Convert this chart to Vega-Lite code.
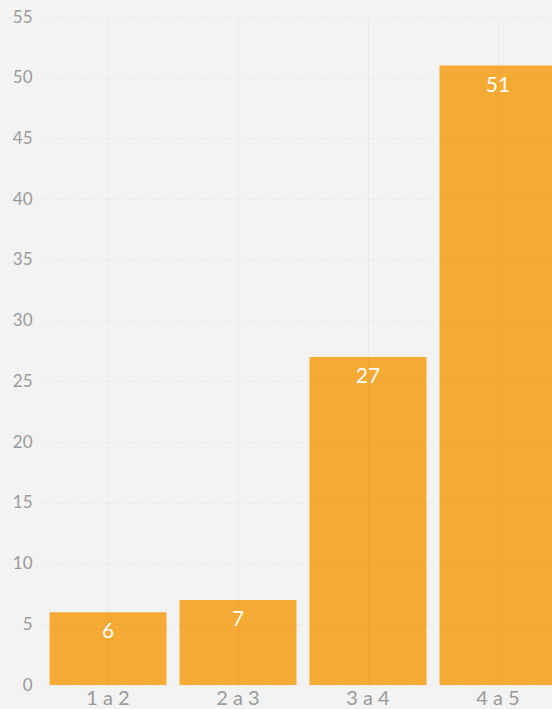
{
  "$schema": "https://vega.github.io/schema/vega-lite/v6.json",
  "autosize": {"type": "none"},
  "width": 509,
  "height": 668,
  "padding": {"left": 43, "top": 17, "right": 0, "bottom": 24},
  "background": "#f3f3f3",
  "config": {"view": {"stroke": null}, "font": "Lato"},
  "data": {"values": [
    {"range": "1 a 2", "count": 6},
    {"range": "2 a 3", "count": 7},
    {"range": "3 a 4", "count": 27},
    {"range": "4 a 5", "count": 51}
  ]},
  "encoding": {
    "x": {
      "field": "range", "type": "nominal", "sort": null,
      "scale": {"range": [0, 520], "paddingInner": 0.1, "paddingOuter": 0.05},
      "axis": {"title": null, "labelAngle": 0, "domain": false, "ticks": false, "grid": true, "bandPosition": 0.5, "gridColor": "#000000", "gridOpacity": 0.03, "labelColor": "#9a9a9a", "labelFontSize": 20, "labelPadding": 3, "zindex": 1}
    },
    "y": {
      "field": "count", "type": "quantitative",
      "scale": {"domain": [0, 55], "nice": false},
      "axis": {"title": null, "values": [0,5,10,15,20,25,30,35,40,45,50,55], "domain": false, "ticks": false, "grid": true, "gridDash": [6, 6], "gridColor": "#000000", "gridOpacity": 0.04, "labelColor": "#9a9a9a", "labelFontSize": 17, "labelPadding": 11, "zindex": 1}
    }
  },
  "layer": [
    {"mark": {"type": "bar", "color": "#f5aa34"}},
    {"mark": {"type": "text", "color": "#ffffff", "fontSize": 21, "baseline": "top", "dy": 9}, "encoding": {"text": {"field": "count", "type": "quantitative"}}}
  ]
}
